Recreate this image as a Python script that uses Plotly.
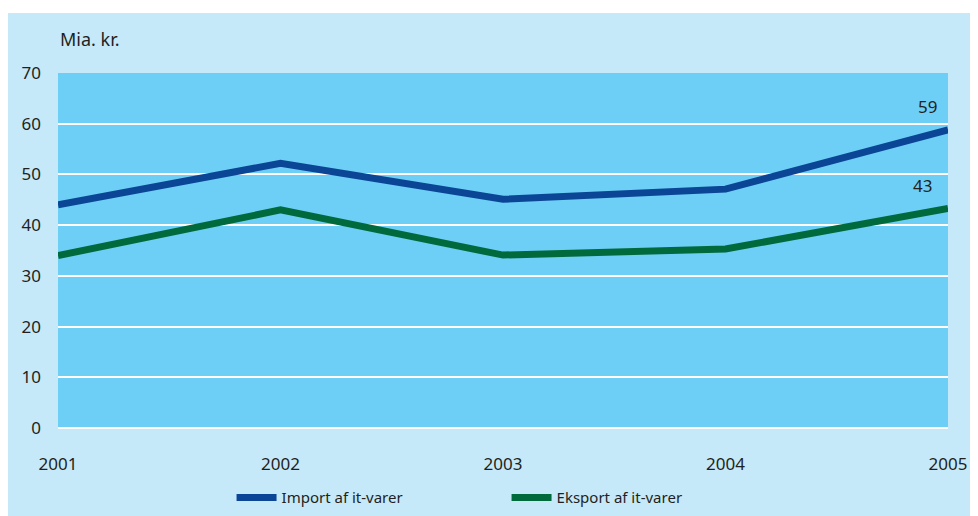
import plotly.graph_objects as go

years = [2001, 2002, 2003, 2004, 2005]
import_vals = [44, 52.2, 45.1, 47.1, 58.8]
export_vals = [34, 43, 34.1, 35.3, 43.3]
import_name = "Import af it-varer"
export_name = "Eksport af it-varer"
y_ticks = [0, 10, 20, 30, 40, 50, 60, 70]

font = "Noto Sans"
txt = "#231f20"

fig = go.Figure()
fig.add_trace(go.Scatter(x=years, y=import_vals, mode="lines", name=import_name,
                         line=dict(color="#0b4596", width=7)))
fig.add_trace(go.Scatter(x=years, y=export_vals, mode="lines", name=export_name,
                         line=dict(color="#006a3d", width=7)))

# end-point value labels
fig.add_annotation(x=years[-1], y=import_vals[-1], text="59", showarrow=False,
                   xanchor="right", yanchor="bottom", xshift=-9, yshift=10,
                   font=dict(size=17, color=txt))
fig.add_annotation(x=years[-1], y=export_vals[-1], text="43", showarrow=False,
                   xanchor="right", yanchor="bottom", xshift=-14, yshift=9,
                   font=dict(size=17, color=txt))
fig.add_annotation(x=0, y=1.055, xref="paper", yref="paper", text="Mia. kr.",
                   showarrow=False, xanchor="left", yanchor="bottom",
                   font=dict(size=18, color=txt))

# white strip at the very top
fig.add_shape(type="rect", xref="paper", yref="paper", x0=-0.1, x1=1.1,
              y0=1.169, y1=1.25, fillcolor="white", line_width=0, layer="below")

fig.update_layout(
    width=970, height=508,
    margin=dict(l=50, r=30, t=65, b=88, autoexpand=False),
    paper_bgcolor="#c6e9f9",
    plot_bgcolor="#6dcff6",
    font=dict(family=font, size=17, color=txt),
    showlegend=True,
    legend=dict(orientation="h", x=0.195, xanchor="left", y=-0.15, yanchor="top",
                bgcolor="rgba(0,0,0,0)", font=dict(size=15, color=txt),
                entrywidth=220, entrywidthmode="pixels", itemwidth=40),
)
fig.update_xaxes(range=[2001, 2005], tickvals=years, ticktext=[str(y) for y in years],
                 showgrid=False, zeroline=False, showline=False, ticks="",
                 ticklabelstandoff=24)
fig.update_yaxes(range=[0, 70], tickvals=y_ticks, showgrid=True, gridcolor="white",
                 gridwidth=2, zeroline=True, zerolinecolor="white", zerolinewidth=2,
                 showline=False, ticks="", ticklabelstandoff=16)

fig.write_html("out.html")
